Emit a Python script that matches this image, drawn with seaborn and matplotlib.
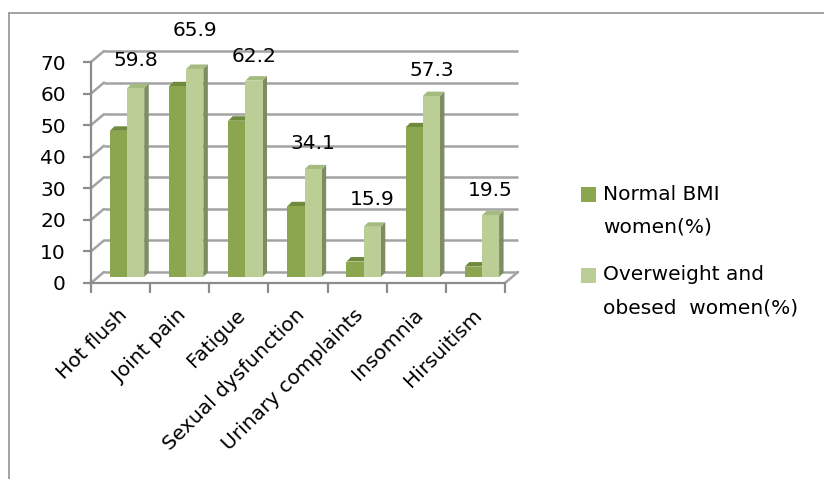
import numpy as np
import pandas as pd
import seaborn as sns
import matplotlib.pyplot as plt
from matplotlib.transforms import ScaledTranslation, IdentityTransform
from matplotlib.patches import Polygon, Rectangle
from matplotlib.lines import Line2D

# ---- data -------------------------------------------------------------
symptoms = ["Hot flush", "Joint pain", "Fatigue", "Sexual dysfunction",
            "Urinary complaints", "Insomnia", "Hirsuitism"]
normal_bmi = [46.3, 60.4, 49.5, 22.4, 4.9, 47.4, 3.3]
overweight = [59.8, 65.9, 62.2, 34.1, 15.9, 57.3, 19.5]
groups = ["Normal BMI women(%)", "Overweight and obesed  women(%)"]
legend_lines = [["Normal BMI", "women(%)"], ["Overweight and", "obesed  women(%)"]]
y_ticks = [0, 10, 20, 30, 40, 50, 60, 70]

# ---- styling ------------------------------------------------------------
front_colors = ["#8ba64f", "#bbce96"]
top_colors = ["#6f8a3a", "#a6bb7f"]
side_colors = ["#6a7f3c", "#7e8d61"]
grid_color = "#a3a3a3"
axis_color = "#8c8c8c"
label_lift_px = [28, 38, 24, 26, 27, 26, 25]   # value labels above bar tops
FS = 14.5

df = pd.DataFrame({
    "symptom": symptoms * 2,
    "value": normal_bmi + overweight,
    "group": [groups[0]] * len(symptoms) + [groups[1]] * len(symptoms),
})

sns.set_theme(style="white")
plt.rcParams["font.family"] = ["DejaVu Sans"]

W, H = 824, 479
fig = plt.figure(figsize=(W / 100, H / 100), dpi=100)
fig.patch.set_facecolor("white")

# front frame of the pseudo-3D box (pixels)
x_left, x_right, y_top, y_bottom = 91, 505, 62, 283
ax = fig.add_axes([x_left / W, 1 - y_bottom / H,
                   (x_right - x_left) / W, (y_bottom - y_top) / H])
ax.set_facecolor("none")

sns.barplot(data=df, x="symptom", y="value", hue="group", order=symptoms,
            hue_order=groups, palette=front_colors, saturation=1, width=0.58,
            errorbar=None, legend=False, linewidth=0, ax=ax)

ax.set_xlim(-0.5, len(symptoms) - 0.5)
ax.set_ylim(0, 70)


def shift(dx, dy):
    return ScaledTranslation(dx / 100, dy / 100, fig.dpi_scale_trans)


back_dx, back_dy = 13, 11
back = ax.transData + shift(back_dx, back_dy)
mid = ax.transData + shift(6.5, 6)

# back wall gridlines and the connecting diagonals from the front axis
x0, x1 = ax.get_xlim()
for yv in y_ticks:
    ax.plot([x0, x1], [yv, yv], transform=back, color=grid_color, lw=1.8,
            zorder=1, clip_on=False, solid_capstyle="butt")
    p = ax.transData.transform((x0, yv))
    ax.add_line(Line2D([p[0], p[0] + back_dx], [p[1], p[1] + back_dy],
                       transform=IdentityTransform(), color=grid_color, lw=1.8,
                       zorder=1, clip_on=False))
p = ax.transData.transform((x1, 0))
ax.add_line(Line2D([p[0], p[0] + back_dx], [p[1], p[1] + back_dy],
                   transform=IdentityTransform(), color=grid_color, lw=1.8,
                   zorder=1, clip_on=False))

# extrude the bars: shifted front faces plus top and side faces
ds, dt = 4.5, 4.5
for gi, cont in enumerate(ax.containers):
    for bar in cont:
        bar.set_transform(mid)
        bar.set_zorder(3)
        bx, bw, bh = bar.get_x(), bar.get_width(), bar.get_height()
        (ax0, ay0), (ax1, ay1) = mid.transform([(bx, 0), (bx + bw, bh)])
        top = Polygon([(ax0, ay1), (ax1, ay1), (ax1 + ds, ay1 + dt), (ax0 + ds, ay1 + dt)],
                      closed=True, transform=IdentityTransform(),
                      facecolor=top_colors[gi], edgecolor="none", zorder=2.5,
                      clip_on=False)
        side = Polygon([(ax1, ay0), (ax1, ay1), (ax1 + ds, ay1 + dt), (ax1 + ds, ay0 + dt)],
                       closed=True, transform=IdentityTransform(),
                       facecolor=side_colors[gi], edgecolor="none", zorder=2.5,
                       clip_on=False)
        ax.add_patch(top)
        ax.add_patch(side)

# value labels over the second series
for bar, v, lift in zip(ax.containers[1], overweight, label_lift_px):
    cx = bar.get_x() + bar.get_width() / 2
    ax.text(cx, v, f"{v:.1f}", transform=mid + shift(0, lift), ha="center",
            va="center", fontsize=FS, color="black", zorder=5, clip_on=False)

# axes, ticks and tick labels
for s in ["top", "right"]:
    ax.spines[s].set_visible(False)
for s in ["left", "bottom"]:
    ax.spines[s].set_color(axis_color)
    ax.spines[s].set_linewidth(1.6)
    ax.spines[s].set_zorder(4)

ax.set_yticks(y_ticks)
ax.set_yticklabels([str(t) for t in y_ticks], fontsize=FS)
ax.tick_params(axis="y", direction="out", length=6, width=1.6, color=axis_color,
               pad=12, labelcolor="black", left=True)
ax.set_xticks(np.arange(len(symptoms)))
ax.set_xticklabels(symptoms, fontsize=FS, rotation=45, ha="right",
                   rotation_mode="anchor")
ax.set_xticks(np.arange(-0.5, len(symptoms)), minor=True)
ax.tick_params(axis="x", which="major", length=0, pad=16, labelcolor="black")
ax.tick_params(axis="x", which="minor", direction="out", length=7, width=1.6,
               color=axis_color, bottom=True)
for lbl in ax.get_xticklabels():
    lbl.set_transform(lbl.get_transform() + shift(-3, 0))
ax.set_xlabel("")
ax.set_ylabel("")
ax.grid(False)

# legend drawn beside the plot, square aligned with the first line
legend_rows = [194, 275]
for gi, (ly, lines) in enumerate(zip(legend_rows, legend_lines)):
    fig.add_artist(Rectangle((581 / W, 1 - (ly + 7.5) / H), 15 / W, 15 / H,
                             transform=fig.transFigure, facecolor=front_colors[gi],
                             edgecolor="none"))
    for k, line in enumerate(lines):
        fig.text(603 / W, 1 - (ly + 33 * k) / H, line, ha="left", va="center",
                 fontsize=FS, color="black")

# chart area border (top and left edges)
border_y = 1 - 12.7 / H
fig.add_artist(Line2D([9 / W, 1], [border_y, border_y], transform=fig.transFigure,
                      color="#8a8a8a", lw=1.1))
fig.add_artist(Line2D([9 / W, 9 / W], [0, border_y], transform=fig.transFigure,
                      color="#8a8a8a", lw=1.1))

fig.savefig("out.png", dpi=100, facecolor="white")
